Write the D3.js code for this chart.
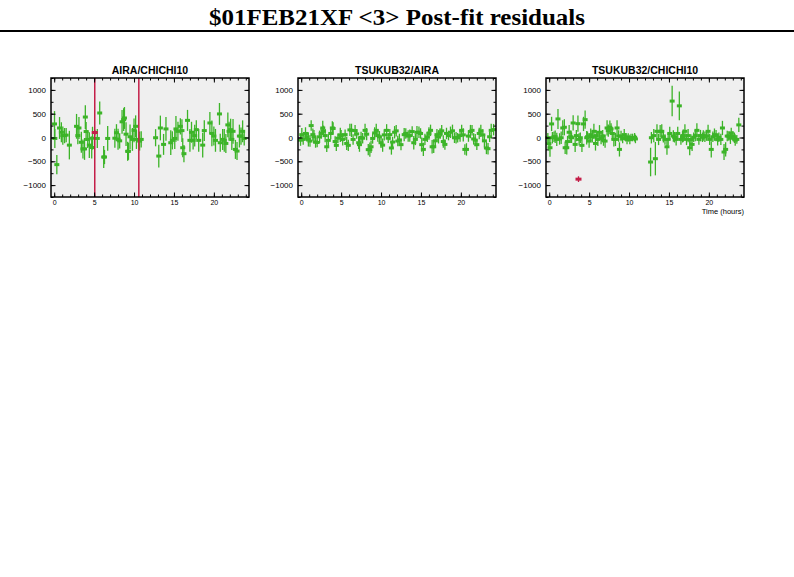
<!DOCTYPE html>
<html><head><meta charset="utf-8">
<script src="https://cdn.jsdelivr.net/npm/d3@7"></script>
<style>body{margin:0;background:#fff}svg{display:block}</style>
</head><body><svg id="c" width="794" height="577"></svg>
<script>
const titleText = "$01FEB21XF <3> Post-fit residuals";
const panelTitles = ["AIRA/CHICHI10", "TSUKUB32/AIRA", "TSUKUB32/CHICHI10"];
const yTicks = [-1000, -500, 0, 500, 1000];
const xTicks = [0, 5, 10, 15, 20];
const xLabel = "Time (hours)";

// Panel 1: AIRA/CHICHI10
const t1 = [0.04,0.08,0.33,0.67,0.9,1.08,1.3,1.5,1.9,2.8,2.96,3.1,3.4,3.6,3.8,3.9,4.0,4.2,4.4,4.7,4.8,5.4,5.7,6.2,6.3,6.7,7.6,7.8,8.0,8.2,8.5,8.7,8.8,9.0,9.2,9.3,9.5,9.8,10.0,10.2,10.3,10.7,10.9,12.7,13.1,13.3,13.7,14.0,14.6,14.8,15.1,15.25,15.5,15.8,16.0,16.1,16.25,16.7,17.0,17.2,17.4,17.6,17.8,18.1,18.6,18.8,19.5,19.75,20.0,20.2,20.7,20.8,21.1,21.3,21.5,21.75,21.9,22.1,22.25,22.4,22.7,22.9,23.2,23.4,23.6,23.8];
const v1 = [285,-20,-570,200,110,40,40,50,-160,235,40,200,-100,-240,-240,430,125,-40,-160,-210,-15,-20,515,-410,-410,-20,-15,100,-35,-70,330,375,410,70,-290,-290,15,-40,150,235,-40,-75,-40,-5,-390,200,-145,180,-110,-60,-20,180,130,235,145,-215,-340,360,-60,110,-60,40,165,-60,-160,145,305,85,30,-60,495,-110,-40,-60,-125,265,130,165,-40,130,-250,-285,30,30,130,-20];
const e1 = [270,200,200,230,210,190,160,150,300,260,180,230,220,200,230,250,200,180,270,230,240,200,240,230,150,260,200,180,220,160,250,240,230,250,200,180,260,240,250,230,200,200,170,180,240,260,220,250,260,190,220,270,200,170,240,200,180,220,240,220,190,230,200,240,260,220,230,270,200,240,230,190,220,240,200,260,200,230,220,260,200,190,240,180,230,150];
const f1t = [5.08], f1v = [105], f1e = [60];
const lines1 = [5.08, 10.6];

// Panel 2: TSUKUB32/AIRA
const t2 = [-0.08,0.08,0.25,0.54,0.7,0.9,1.1,1.25,1.46,1.6,1.8,2.0,2.3,2.5,2.7,2.8,3.0,3.2,3.4,3.7,3.9,4.0,4.25,4.4,4.6,4.9,5.0,5.2,5.5,5.7,5.9,6.1,6.3,6.5,6.75,6.95,7.2,7.3,7.5,7.7,8.0,8.2,8.4,8.6,8.75,8.95,9.2,9.4,9.6,9.8,10.0,10.2,10.4,10.7,10.9,11.1,11.3,11.45,11.7,11.9,12.1,12.3,12.5,12.9,13.1,13.4,13.6,13.9,14.1,14.3,14.5,14.75,14.95,15.1,15.3,15.5,15.8,16.0,16.2,16.4,16.6,16.8,17.0,17.2,17.4,17.6,17.8,18.0,18.2,18.45,18.7,18.95,19.2,19.4,19.6,19.9,20.1,20.3,20.5,20.7,20.95,21.2,21.4,21.6,21.8,22.0,22.3,22.5,22.75,22.95,23.2,23.4,23.6,23.8,24.1];
const v2 = [-55,60,-40,85,15,-40,-75,250,60,15,-95,-105,15,85,200,130,40,-195,-60,85,200,190,-85,-165,-15,55,40,-40,60,-125,-165,160,150,-40,145,75,-110,-150,0,-15,150,70,-255,-255,-195,-20,95,150,40,15,-110,-160,55,150,-15,60,-220,-95,110,140,-75,-50,-150,60,85,30,40,125,-110,-40,110,110,85,-150,-250,-40,15,85,150,-195,-195,-70,60,15,85,140,-85,-145,85,40,110,140,-5,-5,-5,40,150,55,-250,-250,30,125,150,-30,-55,-150,85,140,55,-70,-220,-235,15,150,165];
const e2 = [120,140,110,130,100,150,120,110,130,140,120,100,130,110,150,120,140,110,130,120,140,130,110,120,100,150,120,130,110,140,120,130,140,110,120,100,130,150,120,110,140,130,120,150,130,110,120,140,130,120,110,140,120,130,100,120,140,110,130,120,110,130,120,140,110,120,130,110,140,120,130,120,110,150,140,120,110,130,120,140,130,110,120,140,110,120,130,110,120,100,120,130,110,120,100,130,120,140,110,130,120,140,110,120,130,110,120,130,120,140,130,120,110,140,120];

// Panel 3: TSUKUB32/CHICHI10
const t3 = [-0.17,-0.04,0.1,0.3,0.4,0.6,0.75,0.95,1.1,1.3,1.5,1.7,1.9,2.0,2.2,2.3,2.5,2.7,2.8,3.0,3.25,3.4,3.6,3.75,3.9,4.1,4.3,4.5,4.7,4.8,5.0,5.2,5.4,5.6,5.8,5.9,6.1,6.3,6.5,6.7,6.8,7.0,7.25,7.4,7.6,7.75,7.9,8.1,8.3,8.5,8.7,8.8,9.0,9.2,9.4,9.6,9.75,9.9,10.1,10.25,10.45,10.7,10.8,12.7,12.8,13.1,13.3,13.5,13.7,13.9,14.1,14.3,14.5,14.75,14.9,15.1,15.4,15.55,15.7,15.9,16.1,16.3,16.5,16.7,16.8,17.0,17.2,17.4,17.6,17.75,17.9,18.1,18.3,18.5,18.75,18.95,19.2,19.3,19.5,19.7,19.9,20.1,20.3,20.5,20.7,20.9,21.1,21.25,21.5,21.7,21.9,22.1,22.3,22.5,22.7,22.8,23.0,23.2,23.3,23.5,23.75];
const v3 = [-5,-130,-215,285,-5,15,15,-40,390,-30,-5,200,215,-215,-215,-85,110,15,-5,305,-145,40,290,-40,-5,-165,285,375,-5,15,-75,60,15,130,-125,40,-40,110,-20,30,-55,-75,200,145,215,180,85,-40,-40,200,30,-250,30,-20,60,5,-40,0,-40,0,0,5,-30,-515,-5,40,-445,130,-40,130,130,15,-40,-195,-40,85,765,30,5,-40,85,665,-40,15,40,130,-40,40,-215,-40,-145,5,40,150,-40,40,5,40,15,30,130,-40,-250,15,60,40,-40,5,-40,200,-305,-250,30,30,-15,95,30,-5,-55,-40,265];
const e3 = [100,150,190,150,120,110,130,140,210,120,130,160,170,130,140,120,150,130,110,160,160,120,170,130,110,140,150,190,140,110,140,130,120,160,150,110,140,150,120,130,120,140,160,130,140,120,130,150,140,160,120,150,110,100,120,90,100,90,100,80,80,90,90,300,120,140,350,150,120,130,150,120,110,170,130,140,320,120,110,130,140,300,110,120,130,150,120,140,160,110,140,100,120,150,110,120,100,110,110,100,140,120,170,110,130,120,130,100,120,150,170,150,110,100,120,110,100,110,120,90,150];
const f3t = [3.67], f3v = [-875], f3e = [60];

const panels = [
  {title: panelTitles[0], t: t1, v: v1, e: e1, ft: f1t, fv: f1v, fe: f1e, lines: lines1, left: 51},
  {title: panelTitles[1], t: t2, v: v2, e: e2, ft: [], fv: [], fe: [], lines: [], left: 298},
  {title: panelTitles[2], t: t3, v: v3, e: e3, ft: f3t, fv: f3v, fe: f3e, lines: [], left: 546, xlab: true}
];

const GREEN = "#3cb428", RED = "#c41e48", BG = "#efefef";
const W = 198, TOP = 78, H = 119;
const svg = d3.select("#c");

svg.append("text").attr("x", 397).attr("y", 25).attr("text-anchor", "middle")
  .attr("font-family", "'Liberation Serif', serif").attr("font-weight", "bold")
  .attr("font-size", 23).attr("textLength", 376).attr("lengthAdjust", "spacingAndGlyphs")
  .text(titleText);
svg.append("line").attr("x1", 0).attr("x2", 794).attr("y1", 31).attr("y2", 31)
  .attr("stroke", "#000").attr("stroke-width", 2);

panels.forEach(p => {
  const x = d3.scaleLinear().domain([-0.4, 24.4]).range([p.left, p.left + W]);
  const y = d3.scaleLinear().domain([-1250, 1250]).range([TOP + H, TOP]);
  const g = svg.append("g");
  g.append("rect").attr("x", p.left).attr("y", TOP).attr("width", W).attr("height", H).attr("fill", BG);

  g.append("text").attr("x", p.left + W / 2).attr("y", 74).attr("text-anchor", "middle")
    .attr("font-family", "'Liberation Sans', Arial, sans-serif").attr("font-weight", "bold")
    .attr("font-size", 10.5).text(p.title);

  const pts = p.t.map((t, i) => ({t, v: p.v[i], e: p.e[i]}));
  const dg = g.append("g");
  dg.selectAll("line.eb").data(pts).join("line").attr("class", "eb")
    .attr("x1", d => x(d.t)).attr("x2", d => x(d.t))
    .attr("y1", d => y(d.v - d.e)).attr("y2", d => y(d.v + d.e))
    .attr("stroke", GREEN).attr("stroke-width", 1.3);
  dg.selectAll("rect.mk").data(pts).join("rect").attr("class", "mk")
    .attr("x", d => x(d.t) - 2.5).attr("y", d => y(d.v) - 1.5).attr("width", 5).attr("height", 3)
    .attr("fill", GREEN);

  p.lines.forEach(L => {
    g.append("line").attr("x1", x(L)).attr("x2", x(L)).attr("y1", TOP).attr("y2", TOP + H)
      .attr("stroke", RED).attr("stroke-width", 1.5);
  });
  const fl = p.ft.map((t, i) => ({t, v: p.fv[i], e: p.fe[i]}));
  g.selectAll("line.fe").data(fl).join("line").attr("class", "fe")
    .attr("x1", d => x(d.t)).attr("x2", d => x(d.t))
    .attr("y1", d => y(d.v - d.e)).attr("y2", d => y(d.v + d.e))
    .attr("stroke", RED).attr("stroke-width", 1.3);
  g.selectAll("rect.fm").data(fl).join("rect").attr("class", "fm")
    .attr("x", d => x(d.t) - 3).attr("y", d => y(d.v) - 1.5).attr("width", 6).attr("height", 3)
    .attr("fill", RED);

  const font = "'Liberation Sans', Arial, sans-serif";
  const minorX = d3.range(0, 25, 1), minorY = d3.range(-1250, 1251, 250);
  const ax = (axis, tr, vals, size, labels, pad, fs) => {
    const a = g.append("g").attr("transform", tr)
      .call(axis.tickValues(vals).tickSize(size).tickSizeOuter(0).tickPadding(labels ? pad : 0)
        .tickFormat(labels ? d3.format("d") : () => ""));
    a.select(".domain").remove();
    a.selectAll(".tick line").attr("stroke", "#000").attr("stroke-width", 1);
    a.selectAll("text").attr("font-family", font).attr("font-size", fs || 8).attr("fill", "#000");
    return a;
  };
  ax(d3.axisBottom(x), `translate(0,${TOP + H})`, minorX, -2.5, false);
  ax(d3.axisBottom(x), `translate(0,${TOP + H})`, xTicks, -4.5, true, 3, 7);
  ax(d3.axisTop(x), `translate(0,${TOP})`, minorX, -2.5, false);
  ax(d3.axisTop(x), `translate(0,${TOP})`, xTicks, -4.5, false);
  ax(d3.axisLeft(y), `translate(${p.left},0)`, minorY, -2.5, false);
  ax(d3.axisLeft(y), `translate(${p.left},0)`, yTicks, -4.5, true, 5, 8);
  ax(d3.axisRight(y), `translate(${p.left + W},0)`, minorY, -2.5, false);
  ax(d3.axisRight(y), `translate(${p.left + W},0)`, yTicks, -4.5, false);

  g.append("rect").attr("x", p.left).attr("y", TOP).attr("width", W).attr("height", H)
    .attr("fill", "none").attr("stroke", "#000").attr("stroke-width", 1.5);

  if (p.xlab) {
    g.append("text").attr("x", p.left + W).attr("y", 214).attr("text-anchor", "end")
      .attr("font-family", font).attr("font-size", 7.5).text(xLabel);
  }
});
</script></body></html>
